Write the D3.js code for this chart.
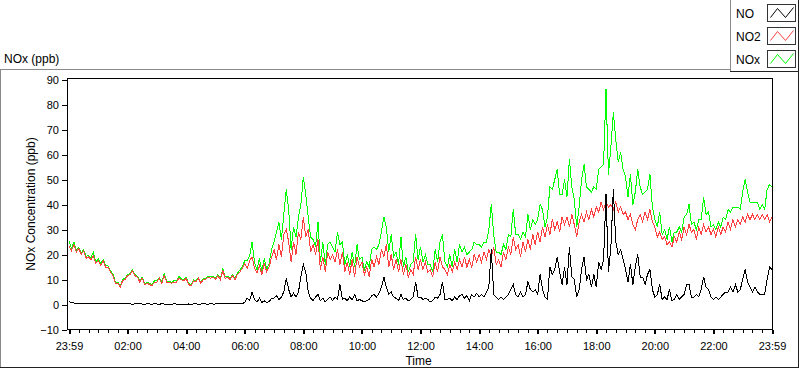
<!DOCTYPE html>
<html>
<head>
<meta charset="utf-8">
<script src="https://cdn.jsdelivr.net/npm/d3@7"></script>
<style>
  body { margin: 0; background: #fff; }
  svg { display: block; font-family: "Liberation Sans", Arial, sans-serif; }
</style>
</head>
<body>
<svg id="chart"></svg>
<script>
  // samples every 5 minutes, 23:59 -> 23:59
  var stepMin = 5

  var no2 = [
    23.5, 21.5, 24.0, 21.0, 22.5, 20.0, 21.5, 18.5, 19.0, 18.0, 19.5, 16.5,
    17.5, 15.5, 17.5, 15.0, 15.0, 13.0, 11.5, 8.5, 8.5, 7.0, 9.5, 10.0,
    11.5, 12.0, 13.5, 11.5, 11.0, 9.0, 10.5, 8.0, 8.5, 8.0, 7.5, 9.0,
    9.0, 10.5, 8.5, 11.5, 9.0, 9.0, 8.5, 9.0, 9.0, 10.5, 10.0, 9.5,
    10.5, 8.0, 7.5, 9.5, 9.0, 10.5, 8.5, 10.0, 10.0, 11.0, 10.5, 11.0,
    10.0, 11.5, 10.0, 13.5, 10.5, 11.0, 10.0, 11.5, 10.0, 12.0, 13.0, 14.5,
    16.5, 14.5, 17.5, 19, 14.5, 12.5, 15.5, 12, 16.5, 13, 15, 19,
    22, 18, 24, 19, 28, 30, 25, 17, 25, 20, 29, 26,
    35, 27, 30, 21, 24, 20, 26, 14, 19, 13, 21, 18,
    20, 17, 22, 16, 21, 13, 17, 12, 18, 11, 19, 15,
    17, 12, 15, 11, 18, 15, 19, 16, 22, 19, 24, 15,
    20, 14, 18, 13, 18, 12, 16, 11, 14, 12, 19, 14,
    18, 14, 17, 13, 14, 11, 17, 13, 19, 15, 14, 12,
    16, 13, 17, 14, 18, 15, 19, 15, 18, 15, 20, 17,
    20, 17, 21, 18, 22, 19, 23, 16, 18, 15, 21, 18,
    23, 20, 27, 22, 24, 19, 25, 21, 26, 22, 28, 24,
    29, 25, 31, 27, 32, 28, 34, 30, 33, 29, 35, 32,
    35, 31, 36, 32, 27, 33, 36, 33, 37, 34, 38, 35,
    39, 37, 41, 38, 41, 39, 40, 38, 41, 37, 39, 36,
    37, 34, 36, 32, 30, 34, 36, 33, 37, 34, 38, 33,
    31, 27, 29, 26, 27, 24, 25, 23, 27, 25, 29, 26,
    31, 28, 32, 29, 30, 26, 31, 28, 32, 29, 31, 28,
    30, 27, 31, 28, 31, 29, 33, 30, 34, 31, 34, 32,
    35, 33, 36, 34, 36, 34, 36, 34, 36, 34, 36, 33, 35
  ]

  var no = [
    1.2, 0.8, 0.6, 0.5, 0.3, 0.4, 0.2, 0.5, 0.3, 0.6, 0.4, 0.3,
    0.3, 0.5, 0.2, 0.4, 0.3, 0.2, 0.4, 0.3, 0.2, 0.3, 0.2, 0.4,
    0.2, 0.3, 0.1, 0.3, 0.2, 0.4, 0.2, 0.1, 0.3, 0.2, 0.1, 0.3,
    0.2, 0.1, 0.3, 0.2, 0.1, 0.2, 0.1, 0.3, 0.2, 0.1, 0.2, 0.1,
    0.1, 0.2, 0.1, 0.2, 0.3, 0.1, 0.2, 0.3, 0.2, 0.1, 0.3, 0.2,
    0.2, 0.3, 0.2, 0.4, 0.3, 0.2, 0.3, 0.2, 0.4, 0.3, 0.5, 0.4,
    0.8, 2.5, 1.5, 5, 2, 1, 2.5, 0.8, 1.5, 0.7, 1.2, 2.5,
    2.5, 3.5, 2, 3, 5, 10.5, 6, 3, 4.5, 3, 5, 11,
    16, 13, 5, 2.5, 1.5, 3, 4, 1.5, 2.5, 1, 2, 3,
    1.5, 3, 2, 8, 2, 2.5, 1.5, 3, 2, 4, 1.5, 2,
    1.5, 1, 1.5, 2, 3.5, 4, 3, 4.5, 7, 11, 7, 4,
    5, 3, 2.5, 1.5, 4, 2, 2.5, 1.5, 2, 3, 9, 3,
    3, 2, 2.5, 2, 1, 1.5, 3, 2.5, 4, 9, 2, 2,
    2.5, 1.5, 3, 2, 3.5, 4, 2.5, 3.5, 1.5, 4, 3, 4.5,
    3, 4, 3, 5, 7, 22, 4, 3, 2, 3, 2, 3,
    4, 6, 8, 4, 3, 5, 3, 4, 9, 6, 5, 6,
    4, 12, 6, 3, 2, 15, 12, 14, 19, 13, 8, 15,
    8, 23, 11, 10, 3, 6, 14, 19, 10, 12, 7, 12,
    7, 17, 14, 18, 44, 13, 23, 46, 25, 20, 22, 18,
    14, 9, 16, 8, 15, 20, 11, 11, 8, 12, 14, 6,
    3, 4, 8, 2, 3, 2, 6, 1.5, 2, 4, 2, 3,
    4, 8, 8, 3, 3, 4, 3, 6, 11, 7, 6, 3,
    2, 3, 2, 3, 4, 5, 5, 7, 5, 8, 5, 6,
    10, 14, 9, 7, 5, 7, 5, 4, 4, 4, 10, 15, 14
  ]

  var nox = [
    25.2, 22.5, 25.0, 21.8, 23.0, 20.6, 21.9, 19.3, 19.5, 18.8, 20.8, 17.0,
    18.2, 16.3, 18.0, 15.6, 15.5, 13.4, 12.2, 9.0, 8.9, 7.5, 10.0, 10.6,
    11.9, 12.5, 13.8, 12.0, 11.4, 9.6, 10.9, 8.3, 9.0, 8.4, 7.8, 9.5,
    9.4, 10.8, 9.0, 12.3, 9.3, 9.4, 8.8, 9.5, 9.4, 11.2, 10.4, 9.8,
    10.8, 8.4, 7.8, 9.9, 9.5, 10.8, 8.9, 10.5, 10.4, 11.3, 11.0, 11.4,
    10.4, 12.0, 10.4, 14.4, 11.0, 11.4, 10.5, 11.9, 10.6, 12.5, 13.7, 15.1,
    17.5, 17.5, 19.5, 25, 17, 13.8, 18.5, 13, 18.5, 14, 16.5, 22,
    25, 29, 33, 26, 36, 46, 38, 22, 31, 27, 35, 40,
    51, 44, 35, 27, 26, 23, 33, 17, 25, 16, 24, 25,
    23, 21, 29, 24, 25, 16, 20, 15, 21, 15, 24, 18,
    19, 14, 17, 15, 22, 23, 22, 24, 29, 35, 31, 21,
    28, 19, 21, 16, 27, 15, 19, 13, 16, 17, 28, 18,
    23, 17, 20, 16, 16, 13, 22, 17, 25, 28, 17, 15,
    20, 15, 22, 17, 24, 21, 23, 20, 21, 22, 25, 24,
    24, 23, 25, 25, 30, 40, 28, 21, 21, 20, 24, 22,
    28, 27, 38, 28, 28, 26, 29, 27, 36, 30, 34, 32,
    34, 40, 38, 31, 35, 47, 46, 50, 54, 44, 44, 50,
    43, 58, 47, 42, 31, 39, 50, 56, 47, 46, 45, 47,
    46, 54, 55, 56, 86, 52, 63, 77, 66, 57, 61, 54,
    51, 43, 52, 40, 45, 54, 47, 44, 45, 46, 52, 39,
    34, 31, 37, 28, 30, 26, 31, 25, 29, 29, 31, 29,
    35, 36, 40, 32, 33, 30, 34, 34, 43, 36, 37, 31,
    32, 30, 33, 31, 35, 34, 38, 37, 39, 39, 39, 38,
    45, 50, 45, 41, 41, 41, 41, 38, 40, 38, 46, 48, 47
  ]

  var xTicks = [0, 120, 240, 360, 480, 600, 720, 840, 960, 1080, 1200, 1320, 1440]
  var xLabels = ['23:59', '02:00', '04:00', '06:00', '08:00', '10:00', '12:00',
                 '14:00', '16:00', '18:00', '20:00', '22:00', '23:59']
  var yTicks = [-10, 0, 10, 20, 30, 40, 50, 60, 70, 80, 90]

  var seriesNames = ['NO', 'NO2', 'NOx']
  var seriesColors = ['#000000', '#ff4040', '#00ff00']

  var W = 800, H = 369

  var svg = d3.select('#chart')
    .attr('width', W)
    .attr('height', H)

  // panel borders
  svg.append('line').attr('x1', 0).attr('y1', 69.5).attr('x2', 731).attr('y2', 69.5)
    .attr('stroke', '#8a8a8a')
  svg.append('line').attr('x1', 0.5).attr('y1', 69).attr('x2', 0.5).attr('y2', 368)
    .attr('stroke', '#8a8a8a')
  svg.append('line').attr('x1', 0).attr('y1', 367.5).attr('x2', 799).attr('y2', 367.5)
    .attr('stroke', '#222')
  svg.append('line').attr('x1', 798.5).attr('y1', 0).attr('x2', 798.5).attr('y2', 368)
    .attr('stroke', '#222')

  // legend box
  svg.append('line').attr('x1', 730.5).attr('y1', 0).attr('x2', 730.5).attr('y2', 72)
    .attr('stroke', '#8a8a8a')
  svg.append('line').attr('x1', 730).attr('y1', 71.5).attr('x2', 799).attr('y2', 71.5)
    .attr('stroke', '#222')

  var x = d3.scaleLinear().domain([0, 1440]).range([69, 772])
  var y = d3.scaleLinear().domain([-10, 90]).range([329.5, 79.5])

  // minor x ticks every 20 min
  var minor = d3.range(0, 1441, 20).filter(function (m) { return m % 120 != 0 })
  var gMinor = svg.append('g')
    .attr('transform', 'translate(0,330)')
    .call(d3.axisBottom(x).tickValues(minor).tickSize(3).tickFormat(''))
  gMinor.select('.domain').remove()
  gMinor.selectAll('line').attr('stroke', '#000').attr('shape-rendering', 'crispEdges')

  var gx = svg.append('g')
    .attr('transform', 'translate(0,330)')
    .call(d3.axisBottom(x).tickValues(xTicks).tickSize(4).tickPadding(8)
      .tickFormat(function (d, i) { return xLabels[i] }))
  gx.select('.domain').remove()
  gx.selectAll('line').attr('stroke', '#000').attr('stroke-width', 2)
    .attr('shape-rendering', 'crispEdges')
  gx.selectAll('text').attr('font-size', 11).attr('fill', '#000')
    .attr('font-family', '"Liberation Sans", Arial, sans-serif')

  var gy = svg.append('g')
    .attr('transform', 'translate(67,0)')
    .call(d3.axisLeft(y).tickValues(yTicks).tickSize(5).tickPadding(3))
  gy.select('.domain').remove()
  gy.selectAll('line').attr('stroke', '#000').attr('shape-rendering', 'crispEdges')
  gy.selectAll('text').attr('font-size', 11).attr('fill', '#000')
    .attr('font-family', '"Liberation Sans", Arial, sans-serif')

  // series: NOx under NO2 under NO
  var line = d3.line()
    .x(function (d, i) { return x(i * stepMin) })
    .y(function (d) { return y(d) })

  var drawOrder = [[nox, 2], [no2, 1], [no, 0]]
  drawOrder.forEach(function (s) {
    svg.append('path')
      .datum(s[0])
      .attr('d', line)
      .attr('fill', 'none')
      .attr('stroke', seriesColors[s[1]])
      .attr('stroke-width', 1)
      .attr('shape-rendering', 'crispEdges')
  })

  // plot frame
  svg.append('rect')
    .attr('x', 67.5).attr('y', 78.5)
    .attr('width', 705).attr('height', 251)
    .attr('fill', 'none').attr('stroke', '#000')

  // labels
  svg.append('text').attr('x', 4).attr('y', 63).attr('font-size', 12)
    .text('NOx (ppb)')
  svg.append('text').attr('x', 418.5).attr('y', 365).attr('font-size', 12)
    .attr('text-anchor', 'middle').text('Time')
  svg.append('text')
    .attr('transform', 'translate(35,204) rotate(-90)')
    .attr('font-size', 12).attr('text-anchor', 'middle')
    .text('NOx Concentration (ppb)')

  // legend
  var zig = [[3, 13], [10, 4], [18, 13], [26, 3]]
  var zigLine = d3.line()
  seriesNames.forEach(function (name, i) {
    var top = 4.5 + i * 23
    svg.append('text').attr('x', 736).attr('y', top + 13).attr('font-size', 12)
      .text(name)
    svg.append('rect').attr('x', 767.5).attr('y', top)
      .attr('width', 28).attr('height', 17)
      .attr('fill', '#fff').attr('stroke', '#333')
    svg.append('path')
      .attr('transform', 'translate(767.5,' + top + ')')
      .attr('d', zigLine(zig))
      .attr('fill', 'none')
      .attr('stroke', seriesColors[i])
  })
</script>
</body>
</html>
